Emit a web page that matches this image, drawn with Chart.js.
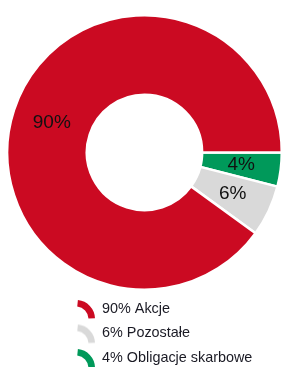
<!DOCTYPE html>
<html>
<head>
<meta charset="utf-8">
<script src="https://cdn.jsdelivr.net/npm/chart.js@4"></script>
<style>
  html, body { margin: 0; padding: 0; background: #fff; }
  #wrap { width: 283px; height: 367px; }
</style>
</head>
<body>
<div id="wrap"><canvas id="chart" width="283" height="367"></canvas></div>
<script>
// order is clockwise from 3 o'clock
const labels = ['Obligacje skarbowe', 'Pozostałe', 'Akcje'];
const values = [4, 6, 90];
const colors = ['#00995a', '#d9d9d9', '#cb0a22'];

// quarter ring icon for the legend
function ringIcon(color) {
    const c = document.createElement('canvas');
    c.width = 22;
    c.height = 24;
    const g = c.getContext('2d');
    g.fillStyle = color;
    g.beginPath();
    g.arc(1, 23, 19, -Math.PI / 2 + 0.1, -0.04, false);
    g.arc(1, 23, 12.5, -0.04, -Math.PI / 2 + 0.1, true);
    g.closePath();
    g.fill();
    return c;
}

const sliceLabels = {
    id: 'sliceLabels',
    afterDatasetsDraw(chart) {
        const ctx = chart.ctx;
        const meta = chart.getDatasetMeta(0);
        ctx.save();
        ctx.font = '19px "Liberation Sans", Arial, sans-serif';
        ctx.fillStyle = '#111';
        ctx.textAlign = 'center';
        ctx.textBaseline = 'middle';
        meta.data.forEach((arc, i) => {
            const p = arc.tooltipPosition();
            ctx.fillText(values[i] + '%', p.x, p.y);
        });
        ctx.restore();
    }
};

const listLegend = {
    id: 'listLegend',
    afterDraw(chart) {
        const ctx = chart.ctx;
        ctx.save();
        ctx.font = '14.4px "Liberation Sans", Arial, sans-serif';
        ctx.fillStyle = '#1a1a24';
        ctx.textBaseline = 'middle';
        const order = [2, 1, 0];
        order.forEach((idx, row) => {
            const y = 309 + row * 24.5;
            ctx.drawImage(ringIcon(colors[idx]), 75, y - 13);
            ctx.fillText(values[idx] + '% ' + labels[idx], 102, y);
        });
        ctx.restore();
    }
};

new Chart(document.getElementById('chart'), {
    type: 'doughnut',
    data: {
        labels: labels,
        datasets: [{
            data: values,
            backgroundColor: colors,
            borderColor: '#ffffff',
            borderWidth: 2.5
        }]
    },
    options: {
        responsive: false,
        animation: false,
        rotation: 90,
        cutout: '42%',
        layout: { padding: { top: 11, left: 6, right: 0, bottom: 73 } },
        plugins: {
            legend: { display: false },
            tooltip: { enabled: false }
        }
    },
    plugins: [sliceLabels, listLegend]
});
</script>
</body>
</html>
